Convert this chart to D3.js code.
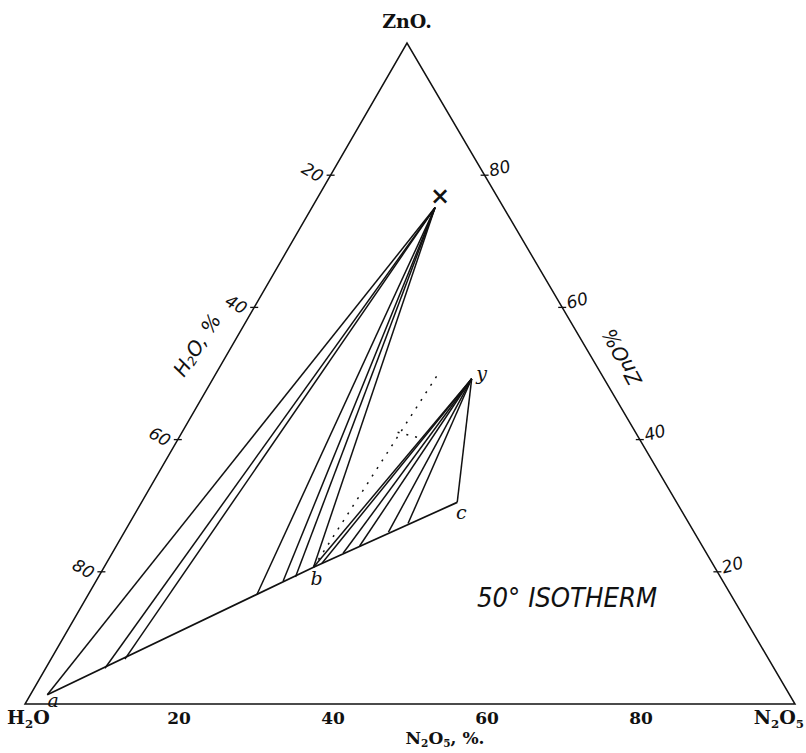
<!DOCTYPE html>
<html><head><meta charset="utf-8">
<script src="https://cdn.jsdelivr.net/npm/d3@7"></script>
<style>body{margin:0;background:#fff}svg{display:block}</style>
</head><body>
<script>
// ---- data (percent N2O5, percent ZnO; H2O is the remainder) ----
const curveN = [2.2, 27.2, 41.0];          // a, b, c
const curveZ = [1.4, 20.7, 30.5];
const curveLabels = ["a", "b", "c"];
const pointX = {n: 16.0, z: 75.1};
const pointY = {n: 33.6, z: 49.2};
const tieXN = [2.2, 7.7, 9.6, 21.9, 24.3, 25.6, 27.2];
const tieXZ = [1.4, 5.4, 6.8, 16.6, 18.6, 19.2, 20.7];
const tieYN = [27.2, 28.0, 30.0, 31.6, 34.3, 36.2, 41.0];
const tieYZ = [20.7, 21.3, 22.8, 23.9, 26.0, 27.3, 30.5];
const dottedN = [27.2, 28.9];
const dottedZ = [20.7, 50.3];
const dotted2N = [28.0, 31.1];
const dotted2Z = [41.1, 40.3];
const baseTicks = [20, 40, 60, 80];   // N2O5 %
const leftTicks = [20, 40, 60, 80];   // H2O %
const rightTicks = [20, 40, 60, 80];  // ZnO %

const W = 806, H = 753;
const A = {x: 25, y: 704}, B = {x: 795, y: 704}, C = {x: 407, y: 43};
const nx = d3.scaleLinear().domain([0, 100]).range([0, B.x - A.x]);
const zx = d3.scaleLinear().domain([0, 100]).range([0, C.x - A.x]);
const zy = d3.scaleLinear().domain([0, 100]).range([A.y, C.y]);
const P = (n, z) => [A.x + nx(n) + zx(z), zy(z)];

const svg = d3.select("body").append("svg").attr("width", W).attr("height", H);
const ink = "#111";
const serif = "'DejaVu Serif', 'Liberation Serif', serif";
const hand = "'DejaVu Sans', 'Liberation Sans', sans-serif";

// triangle
const tri = [P(0, 0), P(100, 0), P(0, 100)];
svg.append("path").attr("d", d3.line()(tri) + "Z")
  .attr("fill", "none").attr("stroke", ink).attr("stroke-width", 1.5).attr("stroke-linejoin", "miter");

// curve a-b-c
const curvePts = curveN.map((n, i) => P(n, curveZ[i]));
svg.append("path").attr("d", d3.line()(curvePts)).attr("fill", "none").attr("stroke", ink).attr("stroke-width", 1.7);

// tie lines
const px = P(pointX.n, pointX.z), py = P(pointY.n, pointY.z);
tieXN.forEach((n, i) => {
  const p = P(n, tieXZ[i]);
  svg.append("line").attr("x1", p[0]).attr("y1", p[1]).attr("x2", px[0]).attr("y2", px[1])
    .attr("stroke", ink).attr("stroke-width", 1.5);
});
tieYN.forEach((n, i) => {
  const p = P(n, tieYZ[i]);
  svg.append("line").attr("x1", p[0]).attr("y1", p[1]).attr("x2", py[0]).attr("y2", py[1])
    .attr("stroke", ink).attr("stroke-width", 1.5);
});
// dotted
[[dottedN, dottedZ], [dotted2N, dotted2Z]].forEach(([ns, zs]) => {
  const p1 = P(ns[0], zs[0]), p2 = P(ns[1], zs[1]);
  svg.append("line").attr("x1", p1[0]).attr("y1", p1[1]).attr("x2", p2[0]).attr("y2", p2[1])
    .attr("stroke", ink).attr("stroke-width", 1.5).attr("stroke-dasharray", "2,7");
});

// ticks & labels
function tickMark(p) {
  svg.append("line").attr("x1", p[0] - 4).attr("y1", p[1]).attr("x2", p[0] + 4).attr("y2", p[1])
    .attr("stroke", ink).attr("stroke-width", 1.3);
}
leftTicks.forEach(h => {
  const p = P(0, 100 - h);
  tickMark(p);
  svg.append("text").attr("transform", `translate(${p[0] - 18},${p[1] - 3}) rotate(30)`)
    .attr("text-anchor", "middle").attr("dominant-baseline", "central")
    .attr("font-family", hand).attr("font-style", "italic").attr("font-size", 17).attr("fill", ink).text(h);
});
rightTicks.forEach(z => {
  const p = P(100 - z, z);
  tickMark(p);
  svg.append("text").attr("transform", `translate(${p[0] + 15},${p[1] - 7}) rotate(-15)`)
    .attr("text-anchor", "middle").attr("dominant-baseline", "central")
    .attr("font-family", hand).attr("font-style", "italic").attr("font-size", 17).attr("fill", ink).text(z);
});
baseTicks.forEach(n => {
  const p = P(n, 0);
  svg.append("text").attr("x", p[0]).attr("y", 724).attr("text-anchor", "middle")
    .attr("font-family", serif).attr("font-weight", "bold").attr("font-size", 17).attr("fill", ink).text(n);
});

// corner labels
svg.append("text").attr("x", C.x).attr("y", 28).attr("text-anchor", "middle")
  .attr("font-family", serif).attr("font-weight", "bold").attr("font-size", 19).attr("fill", ink).text("ZnO.");
function chem(sel, parts, shift) {
  const s = shift || 4;
  let prevSub = false;
  parts.forEach(([t, sub]) => {
    const tsp = sel.append("tspan").text(t);
    if (sub) { tsp.attr("font-size", "0.62em"); if (!prevSub) tsp.attr("dy", s); }
    else if (prevSub) tsp.attr("dy", -s);
    prevSub = !!sub;
  });
}
const h2o = svg.append("text").attr("x", 7).attr("y", 724).attr("text-anchor", "start")
  .attr("font-family", serif).attr("font-weight", "bold").attr("font-size", 19).attr("fill", ink);
chem(h2o, [["H"], ["2", true], ["O"]]);
const n2o5 = svg.append("text").attr("x", 804).attr("y", 724).attr("text-anchor", "end")
  .attr("font-family", serif).attr("font-weight", "bold").attr("font-size", 19).attr("fill", ink);
chem(n2o5, [["N"], ["2", true], ["O"], ["5", true]]);
const axisT = svg.append("text").attr("x", 445).attr("y", 744).attr("text-anchor", "middle")
  .attr("font-family", serif).attr("font-weight", "bold").attr("font-size", 17).attr("fill", ink);
chem(axisT, [["N"], ["2", true], ["O"], ["5", true], [", %."]], 3);

// axis titles (handwritten)
const h2oT = svg.append("text").attr("transform", "translate(197,345) rotate(-57)")
  .attr("text-anchor", "middle").attr("dominant-baseline", "central")
  .attr("font-family", hand).attr("font-style", "italic").attr("font-size", 20).attr("fill", ink);
chem(h2oT, [["H"], ["2", true], ["O, %"]]);
svg.append("text").attr("transform", "translate(622,357) rotate(-118)")
  .attr("text-anchor", "middle").attr("dominant-baseline", "central")
  .attr("font-family", hand).attr("font-style", "italic").attr("font-size", 20).attr("fill", ink).text("ZnO%");

// point labels
const lab = (p, dx, dy, t, size) => svg.append("text").attr("x", p[0] + dx).attr("y", p[1] + dy)
  .attr("text-anchor", "middle").attr("dominant-baseline", "central")
  .attr("font-family", "'DejaVu Serif', serif").attr("font-style", "italic").attr("font-size", size || 19).attr("fill", ink).text(t);
lab(curvePts[0], 6, 5, curveLabels[0]);
lab(curvePts[1], 3, 11, curveLabels[1]);
lab(curvePts[2], 4, 10, curveLabels[2]);
lab(px, 5, -12, "×", 24).attr("font-weight", "bold");
lab(py, 10, -6, "y");

svg.append("text").attr("x", 477).attr("y", 607).attr("textLength", 180).attr("lengthAdjust", "spacingAndGlyphs")
  .attr("font-family", hand).attr("font-style", "italic").attr("font-size", 27).attr("fill", ink).text("50° ISOTHERM");
</script>
</body></html>
